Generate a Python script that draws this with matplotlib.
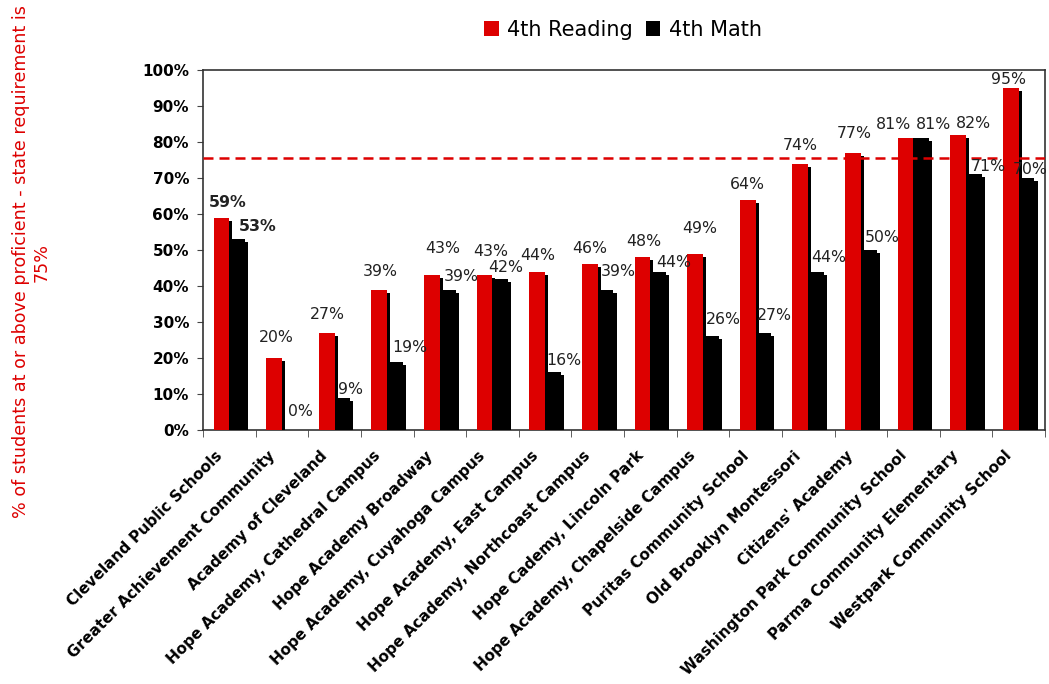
import matplotlib
matplotlib.use("Agg")
import matplotlib.pyplot as plt
import matplotlib.patheffects as pe
from matplotlib.patches import Patch
import numpy as np

schools = [
    "Cleveland Public Schools",
    "Greater Achievement Community",
    "Academy of Cleveland",
    "Hope Academy, Cathedral Campus",
    "Hope Academy Broadway",
    "Hope Academy, Cuyahoga Campus",
    "Hope Academy, East Campus",
    "Hope Academy, Northcoast Campus",
    "Hope Cademy, Lincoln Park",
    "Hope Academy, Chapelside Campus",
    "Puritas Community School",
    "Old Brooklyn Montessori",
    "Citizens' Academy",
    "Washington Park Community School",
    "Parma Community Elementary",
    "Westpark Community School",
]
reading = [59, 20, 27, 39, 43, 43, 44, 46, 48, 49, 64, 74, 77, 81, 82, 95]
math = [53, 0, 9, 19, 39, 42, 16, 39, 44, 26, 27, 44, 50, 81, 71, 70]
state_line = 75.6
yticks = [0, 10, 20, 30, 40, 50, 60, 70, 80, 90, 100]

# label placement (pixel offsets from bar top centre), style only
red_dx = [6, 2, 1, 1, 11, 6, 1, 0, 1, 5, 0, 0, 1, -12, 15, -2]
red_dy = [15, 21, 18, 18, 27, 24, 16, 16, 16, 25, 15, 18, 19, 14, 11, 8]
blk_dx = [20, 11, 8, 15, 14, 5, 11, 13, 15, 13, 11, 13, 13, 12, 14, 4]
blk_dy = [13, 18, 8, 14, 13, 11, 12, 18, 9, 17, 17, 14, 12, 14, 8, 9]
label_shift = -0.28  # category-label anchor shift (style)

RED = "#dd0000"
BLACK = "#000000"

fig = plt.figure(figsize=(10.49, 6.84), dpi=100)
ax = fig.add_axes([203/1049, 1-430/684, (1045-203)/1049, (430-70)/684])

x = np.arange(len(schools))
w = 0.30
shadow = [pe.SimplePatchShadow(offset=(2.2, -2.2), shadow_rgbFace="black", alpha=1.0), pe.Normal()]
b1 = ax.bar(x - w/2, reading, w, color=RED, zorder=3)
b2 = ax.bar(x + w/2, math, w, color=BLACK, zorder=3)
for b in list(b1) + list(b2):
    b.set_path_effects(shadow)

ax.axhline(state_line, color=RED, lw=1.8, ls=(0, (4, 2.4)), zorder=4)

px = 0.72
for i, (r, m) in enumerate(zip(reading, math)):
    bold = "bold" if i == 0 else "normal"
    ax.annotate(f"{r}%", (x[i] - w/2, r), xytext=(red_dx[i]*px, red_dy[i]*px),
                textcoords="offset points", ha="center", va="center",
                fontsize=11.3, fontweight=bold, color="#222222", zorder=5)
    ax.annotate(f"{m}%", (x[i] + w/2, m), xytext=(blk_dx[i]*px, blk_dy[i]*px),
                textcoords="offset points", ha="center", va="center",
                fontsize=11.3, fontweight=bold, color="#222222", zorder=5,
                annotation_clip=False)

ax.set_xlim(-0.5, len(schools) - 0.5)
ax.set_ylim(0, 100)
ax.set_yticks(yticks)
ax.set_yticklabels([f"{t}%" for t in yticks], fontsize=11, fontweight="bold")
ax.set_xticks(x + label_shift)
ax.set_xticklabels(schools, rotation=45, ha="right", va="top", rotation_mode="anchor",
                   fontsize=11, fontweight="bold")
ax.tick_params(axis="x", length=0, pad=13)
ax.set_xticks(np.arange(-0.5, len(schools), 1.0), minor=True)
ax.tick_params(axis="x", which="minor", length=5, direction="out", color="#444444")
ax.tick_params(axis="y", length=4, direction="out", color="#444444", pad=6)
for s in ax.spines.values():
    s.set_color("#333333")
    s.set_linewidth(1.2)

fig.text(31/1049, 1-262/684,
         "% of students at or above proficient - state requirement is\n75%",
         rotation=90, ha="center", va="center", multialignment="center",
         fontsize=12.6, color=RED)

handles = [Patch(facecolor=RED, edgecolor="none"), Patch(facecolor=BLACK, edgecolor="none")]
fig.legend(handles=handles, labels=["4th Reading", "4th Math"], loc="center",
           bbox_to_anchor=(623/1049, 1-30/684), ncol=2, frameon=False, fontsize=15,
           handlelength=0.7, handleheight=0.7, handletextpad=0.4, columnspacing=0.6)

fig.savefig("out.png", dpi=100)
